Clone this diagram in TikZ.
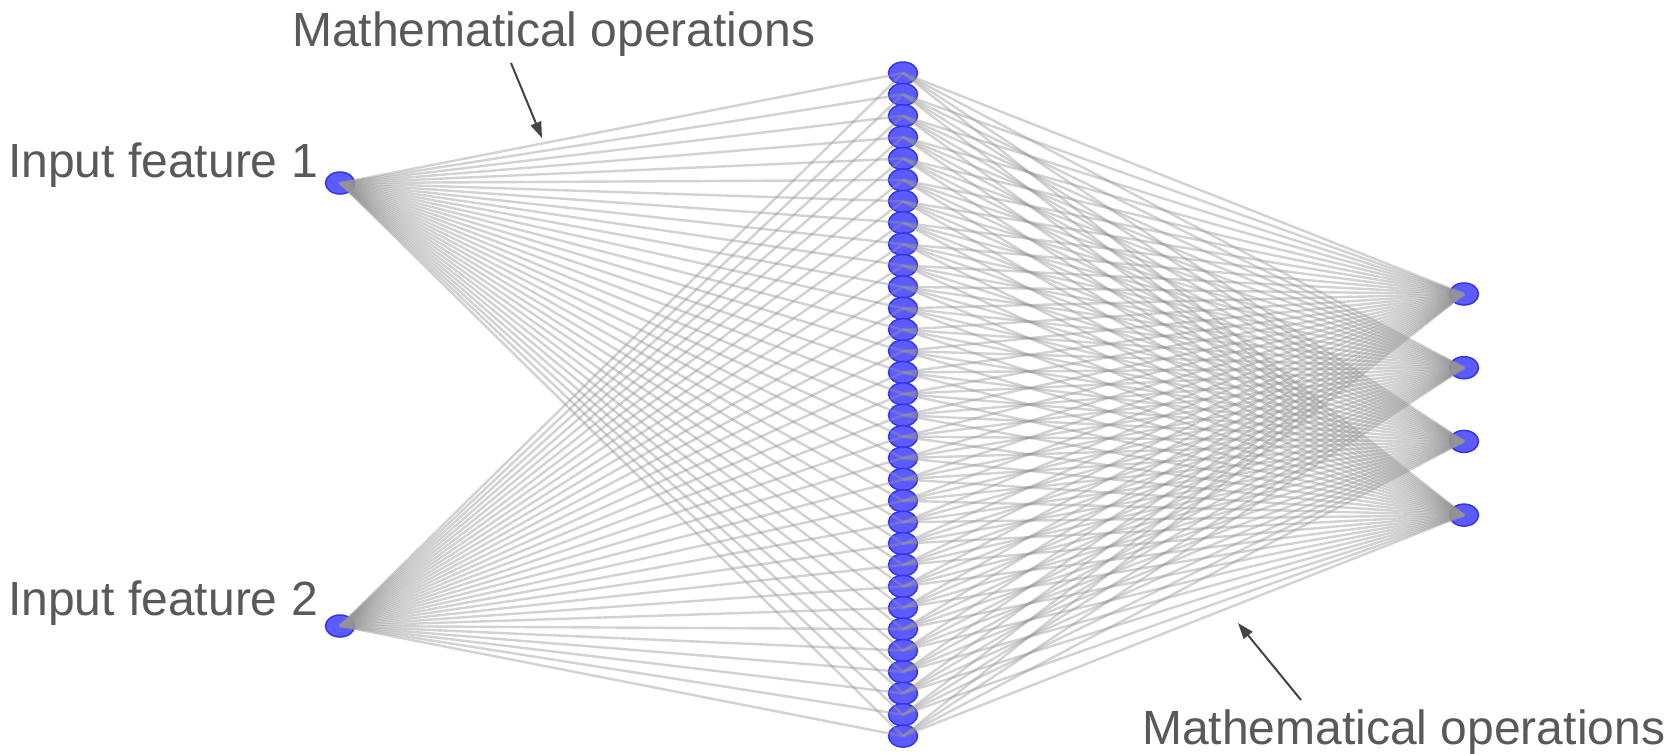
\documentclass[tikz,border=0pt]{standalone}
\usepackage{fontspec}
\setmainfont{Liberation Sans}
\usetikzlibrary{shapes.geometric,arrows.meta}
\definecolor{nodefill}{HTML}{5B5BFF}
\definecolor{nodeline}{HTML}{3434E8}
\definecolor{txt}{HTML}{595959}
\definecolor{edgec}{HTML}{959595}
\definecolor{arrc}{HTML}{444444}
\begin{document}
\begin{tikzpicture}[x=1pt,y=-1pt,
 neuron/.style={ellipse,fill=nodefill,draw=nodeline,line width=1.5pt,minimum width=29pt,minimum height=22pt,inner sep=0pt},
 edge/.style={draw=edgec,draw opacity=0.42,line width=2.4pt},
 lbl/.style={text=txt,font=\fontsize{48}{52}\selectfont,inner sep=0pt,anchor=base west},
 pointer/.style={draw=arrc,line width=2pt,-{Triangle[length=16pt,width=11pt]}}]
\useasboundingbox[fill=white] (0,0) rectangle (1672,753);
\node[neuron] (i1) at (340,183) {};
\node[neuron] (i2) at (340,626) {};
\foreach \j in {1,...,32} \node[neuron] (h\j) at (903,{73+(\j-1)*21.39}) {};
\foreach \k in {1,...,4} \node[neuron] (o\k) at (1464,{294+(\k-1)*73.7}) {};
\foreach \j in {1,...,32} {
  \draw[edge] (i1.center) -- (h\j.center);
  \draw[edge] (i2.center) -- (h\j.center);
}
\foreach \j in {1,...,32} \foreach \k in {1,...,4} \draw[edge] (h\j.center) -- (o\k.center);
\node[lbl] (t1) at (8,177) {Input feature 1};
\node[lbl] (t2) at (8,615) {Input feature 2};
\node[lbl] (m1) at (292,46) {Mathematical operations};
\node[lbl] (m2) at (1142,744) {Mathematical operations};
\coordinate (a1s) at (511,63);
\coordinate (a1e) at (542,138);
\coordinate (a2s) at (1301,700);
\coordinate (a2e) at (1238,623);
\draw[pointer] (a1s) -- (a1e);
\draw[pointer] (a2s) -- (a2e);
\end{tikzpicture}
\end{document}
